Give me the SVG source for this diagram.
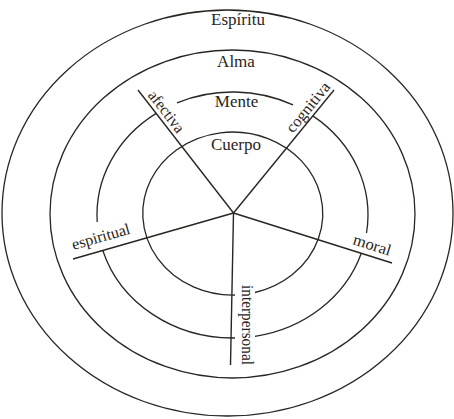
<svg xmlns="http://www.w3.org/2000/svg" width="454" height="419" viewBox="0 0 454 419">
<style>
.ring{fill:none;stroke:#2a2521;stroke-width:1.3}
.spoke{stroke:#2a2521;stroke-width:1.4;stroke-linecap:butt}
.rl{font-family:"Liberation Serif","DejaVu Serif",serif;font-size:17px;fill:#2a2521;text-anchor:middle}
.sl{font-family:"Liberation Serif","DejaVu Serif",serif;font-size:16px;fill:#2a2521}
</style>
<rect width="454" height="419" fill="#ffffff"/>
<g id="espiritu">
<ellipse class="ring" cx="227.5" cy="213" rx="225.5" ry="203"/>
<text class="rl" x="238" y="25">Espíritu</text>
</g>
<g id="alma">
<ellipse class="ring" cx="232.5" cy="214" rx="182.5" ry="164"/>
<text class="rl" x="236" y="67">Alma</text>
</g>
<g id="mente">
<path class="ring" d="M177,102.8 A135.5,123 0 0 1 293,104.9"/>
<path class="ring" d="M312.8,115.9 A135.5,123 0 0 1 366.5,233"/>
<path class="ring" d="M361.3,253.3 A135.5,123 0 0 1 255,336.3"/>
<path class="ring" d="M235,338 A135.5,123 0 0 1 102.8,250.5"/>
<path class="ring" d="M97.2,222 A135.5,123 0 0 1 156.2,113.4"/>
<text class="rl" x="236.5" y="107">Mente</text>
</g>
<g id="cuerpo">
<path class="ring" d="M255,292.5 A90,81.5 0 1 0 235,295"/>
<text class="rl" x="236" y="150">Cuerpo</text>
</g>
<g id="connectors">
<line class="spoke" x1="233.5" y1="213" x2="138" y2="90"/>
<line class="spoke" x1="233.5" y1="213" x2="334" y2="90"/>
<line class="spoke" x1="233.5" y1="213" x2="73" y2="259"/>
<line class="spoke" x1="233.5" y1="213" x2="392" y2="263"/>
<line class="spoke" x1="233.5" y1="213" x2="230.5" y2="365"/>
</g>
<g id="afectiva">
<text class="sl" transform="translate(147.3,95.4) rotate(52.2)" textLength="49" lengthAdjust="spacingAndGlyphs">afectiva</text>
</g>
<g id="cognitiva">
<text class="sl" transform="translate(293.1,133.7) rotate(-50.7)" textLength="60" lengthAdjust="spacingAndGlyphs">cognitiva</text>
</g>
<g id="espiritual">
<text class="sl" transform="translate(73.5,250) rotate(-16)" textLength="60" lengthAdjust="spacingAndGlyphs">espiritual</text>
</g>
<g id="moral">
<text class="sl" transform="translate(352,244) rotate(17.6)" textLength="39" lengthAdjust="spacingAndGlyphs">moral</text>
</g>
<g id="interpersonal">
<text class="sl" transform="translate(242,285) rotate(90)" textLength="80" lengthAdjust="spacingAndGlyphs">interpersonal</text>
</g>
</svg>
